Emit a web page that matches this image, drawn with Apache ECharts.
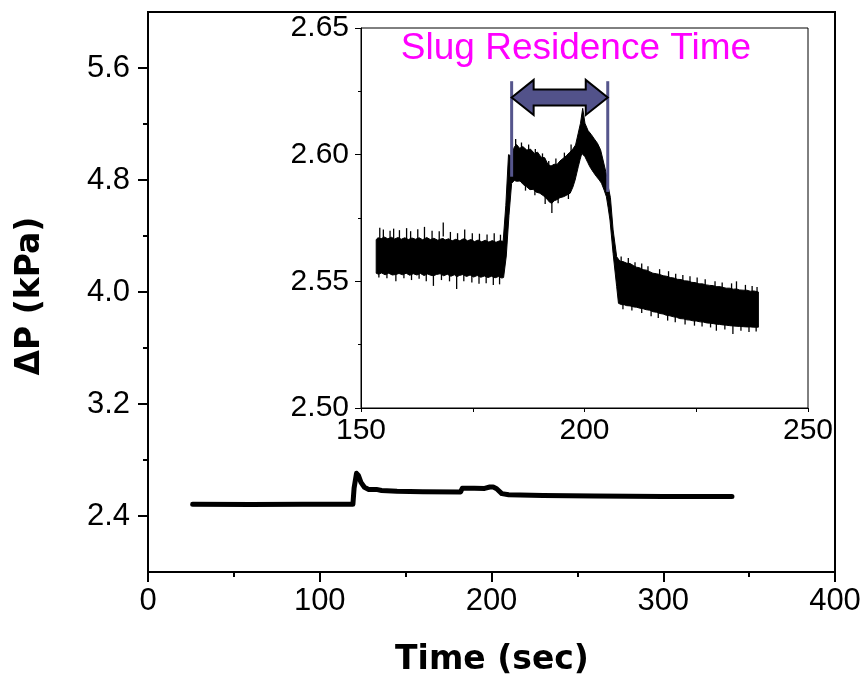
<!DOCTYPE html>
<html>
<head>
<meta charset="utf-8">
<title>Slug residence time</title>
<script src="https://cdn.jsdelivr.net/npm/echarts@6/dist/echarts.min.js"></script>
<style>
  html, body { margin: 0; padding: 0; background: #fff; }
  #main { width: 865px; height: 683px; }
</style>
</head>
<body>
<div id="main"></div>
<script>
  // whole run (main plot), time in sec, dP in kPa
  const mainTime = [26, 60, 90, 119.3, 120, 121.4, 122.5, 124, 126, 128.5, 131, 132, 133, 136, 145, 160, 182,
    183, 190, 196, 199, 201, 203, 206, 210, 230, 260, 300, 340];
  const mainDp = [2.484, 2.483, 2.484, 2.484, 2.60, 2.705, 2.69, 2.64, 2.605, 2.59, 2.59, 2.60, 2.59, 2.582, 2.576, 2.573, 2.572,
    2.598, 2.598, 2.597, 2.607, 2.607, 2.595, 2.56, 2.552, 2.546, 2.542, 2.539, 2.539];

  // inset: upper edge of the noisy trace
  const bandTopTime = [153.4, 153.8, 154.5, 155.2, 156.0, 156.8, 157.5, 158.3, 159.0, 159.8, 160.6, 161.4, 162.2, 163.0,
    163.8, 164.7, 165.5, 166.3, 167.2, 168.0, 168.4, 168.8, 169.6, 170.4, 171.2, 172.1, 172.8, 173.2, 173.8, 174.6,
    175.4, 176.2, 177.0, 177.8, 178.6, 179.4, 180.2, 181.0, 181.8, 182.4, 183.0, 183.6, 184.3, 184.8, 185.5, 186.2,
    187.1, 187.9, 188.8, 189.5, 190.3, 191.1, 191.8, 192.5, 193.2, 193.9, 194.5, 195.2, 195.9, 196.6, 197.3, 198.0,
    198.6, 199.1, 199.6, 200.1, 200.8, 201.5, 202.2, 202.9, 203.6, 204.2, 204.8, 205.3, 205.8, 206.4, 207.2, 207.9,
    208.6, 209.4, 210.2, 211.0, 211.6, 212.4, 213.1, 213.9, 214.6, 215.3, 216.1, 216.8, 217.6, 218.4, 219.2, 220.0,
    220.8, 221.6, 222.4, 223.2, 224.0, 224.8, 225.6, 226.4, 227.2, 228.0, 228.8, 229.6, 230.4, 231.2, 231.7, 232.5,
    233.3, 234.0, 234.7, 235.5, 236.3, 237.1, 237.9, 238.9];
  const bandTopDp = [2.5665, 2.5672, 2.5668, 2.5675, 2.5668, 2.5674, 2.5667, 2.5673, 2.5666, 2.5672, 2.5665, 2.5671, 2.5666, 2.5672,
    2.5664, 2.5673, 2.5665, 2.5670, 2.5662, 2.5668, 2.5669, 2.5663, 2.5668, 2.5660, 2.5666, 2.5660, 2.5667, 2.5668, 2.5660, 2.5665,
    2.5657, 2.5663, 2.5656, 2.5662, 2.5655, 2.5661, 2.5654, 2.5660, 2.5658, 2.5800, 2.6000, 2.5995, 2.6030, 2.6040, 2.6025, 2.6032,
    2.6018, 2.6022, 2.6005, 2.6010, 2.5990, 2.5988, 2.5962, 2.5955, 2.5962, 2.5962, 2.5975, 2.5985, 2.5995, 2.6008, 2.6020, 2.6038,
    2.6085, 2.6124, 2.6183, 2.6124, 2.6095, 2.6080, 2.6062, 2.6045, 2.6019, 2.5975, 2.5930, 2.5874, 2.5830, 2.5703, 2.5597, 2.5580,
    2.5578, 2.5572, 2.5570, 2.5562, 2.5556, 2.5553, 2.5546, 2.5544, 2.5538, 2.5532, 2.5530, 2.5527, 2.5522, 2.5520, 2.5515, 2.5513,
    2.5508, 2.5507, 2.5502, 2.5501, 2.5496, 2.5495, 2.5490, 2.5490, 2.5486, 2.5484, 2.5483, 2.5479, 2.5479, 2.5475, 2.5473, 2.5473,
    2.5469, 2.5470, 2.5466, 2.5465, 2.5465, 2.5461, 2.5462, 2.5458];

  // inset: lower edge of the noisy trace
  const bandLowTime = [153.4, 153.9, 154.6, 155.4, 156.2, 157.0, 157.8, 158.5, 159.3, 160.1, 160.9, 161.7, 162.5, 163.3,
    164.1, 164.9, 165.6, 166.2, 166.9, 167.7, 168.5, 169.3, 170.1, 170.9, 171.4, 172.0, 172.8, 173.6, 174.4, 175.2,
    176.0, 176.8, 177.6, 178.4, 179.2, 180.0, 180.8, 181.5, 181.9, 182.5, 183.1, 183.7, 184.3, 184.8, 185.6, 186.3,
    187.0, 187.8, 188.5, 189.2, 190.0, 190.8, 191.6, 192.2, 192.7, 193.2, 193.8, 194.5, 195.3, 196.0, 196.8, 197.4,
    197.9, 198.6, 199.0, 199.4, 200.1, 200.7, 201.2, 202.0, 202.7, 203.3, 203.8, 204.4, 204.9, 205.3, 205.7, 206.4,
    207.2, 207.6, 208.3, 209.0, 209.4, 210.2, 211.0, 211.6, 212.4, 213.1, 213.8, 214.6, 215.3, 216.1, 216.9, 217.6,
    218.3, 219.1, 219.9, 220.6, 221.3, 222.1, 222.9, 223.6, 224.3, 225.1, 225.9, 226.6, 227.3, 228.0, 228.8, 229.5,
    230.2, 231.0, 231.7, 232.5, 233.2, 233.9, 234.7, 235.5, 236.3, 237.1, 237.9, 238.9];
  const bandLowDp = [2.5532, 2.5528, 2.5533, 2.5526, 2.5532, 2.5525, 2.5527, 2.5531, 2.5526, 2.5532, 2.5524, 2.5530, 2.5525, 2.5531,
    2.5523, 2.5529, 2.5524, 2.5522, 2.5527, 2.5530, 2.5522, 2.5528, 2.5520, 2.5526, 2.5518, 2.5523, 2.5527, 2.5519, 2.5525, 2.5517,
    2.5523, 2.5516, 2.5521, 2.5515, 2.5520, 2.5514, 2.5519, 2.5513, 2.5515, 2.5600, 2.5760, 2.5887, 2.5898, 2.5895, 2.5896, 2.5882,
    2.5874, 2.5862, 2.5863, 2.5852, 2.5848, 2.5838, 2.5825, 2.5812, 2.5808, 2.5818, 2.5822, 2.5830, 2.5834, 2.5840, 2.5848, 2.5872,
    2.5900, 2.5952, 2.5980, 2.6005, 2.5992, 2.5970, 2.5952, 2.5930, 2.5913, 2.5900, 2.5887, 2.5860, 2.5834, 2.5790, 2.5742, 2.5610,
    2.5479, 2.5413, 2.5408, 2.5407, 2.5404, 2.5403, 2.5399, 2.5398, 2.5394, 2.5392, 2.5388, 2.5386, 2.5380, 2.5378, 2.5373, 2.5371,
    2.5366, 2.5364, 2.5360, 2.5358, 2.5353, 2.5352, 2.5348, 2.5347, 2.5344, 2.5343, 2.5340, 2.5339, 2.5336, 2.5335, 2.5333, 2.5331,
    2.5330, 2.5328, 2.5327, 2.5325, 2.5324, 2.5323, 2.5322, 2.5321, 2.5320, 2.5320, 2.5319, 2.5319];

  // thin noise spikes sticking out of the band (time, tip value)
  const topSpikeTime = [154.2, 155.0, 156.5, 157.3, 158.6, 160.2, 161.1, 162.7, 164.2, 165.9, 167.5, 168.4, 170.0, 171.6,
    173.2, 174.9, 176.5, 178.2, 179.8, 181.2, 184.6, 185.9, 187.5, 189.0, 190.6, 192.0, 193.6, 195.5, 197.0,
    208.2, 209.8, 211.3, 212.8, 214.2, 216.8, 218.8, 220.4, 222.0, 223.6, 225.2, 227.0, 229.2, 230.8, 232.9,
    234.0, 236.0, 237.5, 238.6];
  const topSpikeDp = [2.5712, 2.5705, 2.5700, 2.5708, 2.5702, 2.5710, 2.5698, 2.5706, 2.5715, 2.5700, 2.5698, 2.5732, 2.5695, 2.5690,
    2.5705, 2.5690, 2.5688, 2.5685, 2.5690, 2.5684, 2.6062, 2.6048, 2.6040, 2.6022, 2.6005, 2.5975, 2.5985, 2.6008, 2.6040,
    2.5598, 2.5592, 2.5575, 2.5570, 2.5560, 2.5548, 2.5540, 2.5530, 2.5525, 2.5520, 2.5515, 2.5508, 2.5500, 2.5495, 2.5492,
    2.5500, 2.5486, 2.5482, 2.5478];
  const lowSpikeTime = [154.0, 155.8, 157.8, 159.6, 161.3, 163.0, 164.6, 166.2, 168.0, 169.8, 171.4, 173.0, 174.8, 176.4,
    178.0, 179.6, 181.0, 186.8, 188.9, 191.2, 192.7, 194.1, 196.4, 208.6, 210.6, 212.8, 214.9, 216.5, 218.6, 220.3,
    222.5, 224.6, 226.3, 228.2, 229.5, 231.4, 233.2, 235.0, 236.8, 238.4];
  const lowSpikeDp = [2.5515, 2.5512, 2.5500, 2.5512, 2.5505, 2.5510, 2.5500, 2.5482, 2.5505, 2.5500, 2.5470, 2.5500, 2.5495, 2.5490,
    2.5492, 2.5486, 2.5488, 2.5858, 2.5840, 2.5805, 2.5770, 2.5808, 2.5825, 2.5390, 2.5385, 2.5375, 2.5362, 2.5355, 2.5345, 2.5338,
    2.5330, 2.5325, 2.5322, 2.5318, 2.5305, 2.5310, 2.5292, 2.5305, 2.5300, 2.5302];

  // slug markers in the inset
  const slugBounds = [183.7, 205.2];
  const slugLineTop = 2.629;
  const slugLineBottom = [2.5913, 2.5853];
  const arrowLevel = 2.6226;
  const slugLabel = 'Slug Residence Time';

  // tick labels
  const mainYLabels = [2.4, 3.2, 4.0, 4.8, 5.6];
  const mainYMinor = [2.8, 3.6, 4.4, 5.2];

  const font = 'Liberation Sans, Arial, sans-serif';
  const black = '#000';

  let chart = echarts.init(document.getElementById('main'));

  let mainData = mainTime.map(function (t, i) { return [t, mainDp[i]]; });

  let option = {
    backgroundColor: '#fff',
    animation: false,
    grid: [
      { left: 148, right: 30, top: 12, bottom: 111, show: true, borderColor: black, borderWidth: 2 },
      { left: 361, right: 57, top: 28, bottom: 275, show: true, borderColor: black, borderWidth: 1, backgroundColor: '#fff' }
    ],
    xAxis: [{
      gridIndex: 0, type: 'value', min: 0, max: 400, interval: 100,
      axisLine: { onZero: false, lineStyle: { color: black, width: 2 } },
      axisTick: { length: 10, lineStyle: { color: black, width: 2 } },
      minorTick: { show: true, splitNumber: 2, length: 5, lineStyle: { color: black, width: 2 } },
      axisLabel: { color: black, fontSize: 31, fontFamily: font, margin: 14 },
      splitLine: { show: false }
    }, {
      gridIndex: 1, type: 'value', min: 150, max: 250, interval: 50,
      axisLine: { onZero: false, lineStyle: { color: black, width: 1 } },
      axisTick: { length: 4, lineStyle: { color: black, width: 1 } },
      minorTick: { show: true, splitNumber: 2, length: 4, lineStyle: { color: black, width: 1 } },
      axisLabel: { color: black, fontSize: 30, fontFamily: font, margin: 8 },
      splitLine: { show: false }
    }],
    yAxis: [{
      gridIndex: 0, type: 'value', min: 2.0, max: 6.0, position: 'left',
      axisLine: { onZero: false, lineStyle: { color: black, width: 2 } },
      axisTick: { length: 10, customValues: mainYLabels, lineStyle: { color: black, width: 2 } },
      axisLabel: {
        customValues: mainYLabels, color: black, fontSize: 31, fontFamily: font, margin: 18,
        formatter: function (v) { return v.toFixed(1); }
      },
      splitLine: { show: false }
    }, {
      // short ticks between the labelled ones
      gridIndex: 0, type: 'value', min: 2.0, max: 6.0, position: 'left',
      axisLine: { show: false },
      axisTick: { length: 5, customValues: mainYMinor, lineStyle: { color: black, width: 2 } },
      axisLabel: { show: false },
      splitLine: { show: false }
    }, {
      gridIndex: 1, type: 'value', min: 2.50, max: 2.65, interval: 0.05,
      axisLine: { onZero: false, lineStyle: { color: black, width: 1 } },
      axisTick: { length: 6, lineStyle: { color: black, width: 1 } },
      minorTick: { show: true, splitNumber: 2, length: 3, lineStyle: { color: black, width: 1 } },
      axisLabel: {
        color: black, fontSize: 30, fontFamily: font, margin: 12,
        formatter: function (v) { return v.toFixed(2); }
      },
      splitLine: { show: false }
    }],
    graphic: [{
      type: 'text', x: 30, y: 296, rotation: Math.PI / 2,
      style: { text: 'ΔP (kPa)', fill: black, font: 'bold 33px "DejaVu Sans", sans-serif', textAlign: 'center', textVerticalAlign: 'middle' }
    }, {
      type: 'text', x: 492, y: 660,
      style: { text: 'Time (sec)', fill: black, font: 'bold 33px "DejaVu Sans", sans-serif', textAlign: 'center', textVerticalAlign: 'middle' }
    }, {
      type: 'text', x: 576, y: 49, z: 100,
      style: { text: slugLabel, fill: '#ff00ff', font: '37px "Liberation Sans", Arial, sans-serif', textAlign: 'center', textVerticalAlign: 'middle' }
    }],
    series: [{
      type: 'line',
      xAxisIndex: 0, yAxisIndex: 0,
      data: mainData,
      showSymbol: false,
      lineStyle: { color: black, width: 5, join: 'round', cap: 'round' }
    }, {
      // noisy band drawn as the area between its two edges, plus hair spikes
      type: 'custom',
      xAxisIndex: 1, yAxisIndex: 2,
      data: [[bandTopTime[0], bandTopDp[0]]],
      clip: true,
      z: 3,
      renderItem: function (params, api) {
        let pts = [];
        for (let i = 0; i < bandTopTime.length; i++) {
          pts.push(api.coord([bandTopTime[i], bandTopDp[i]]));
        }
        for (let i = bandLowTime.length - 1; i >= 0; i--) {
          pts.push(api.coord([bandLowTime[i], bandLowDp[i]]));
        }
        let children = [{
          type: 'polygon',
          shape: { points: pts },
          style: { fill: black, stroke: black, lineWidth: 1 }
        }];
        let hairStyle = { stroke: black, lineWidth: 1.3 };
        for (let i = 0; i < topSpikeTime.length; i++) {
          let p = api.coord([topSpikeTime[i], topSpikeDp[i]]);
          children.push({ type: 'line', shape: { x1: p[0], y1: p[1], x2: p[0], y2: p[1] + 14 }, style: hairStyle });
        }
        for (let i = 0; i < lowSpikeTime.length; i++) {
          let p = api.coord([lowSpikeTime[i], lowSpikeDp[i]]);
          children.push({ type: 'line', shape: { x1: p[0], y1: p[1], x2: p[0], y2: p[1] - 14 }, style: hairStyle });
        }
        return { type: 'group', children: children };
      }
    }, {
      // residence time markers + double arrow
      type: 'custom',
      xAxisIndex: 1, yAxisIndex: 2,
      data: [[slugBounds[0], arrowLevel]],
      z: 5,
      renderItem: function (params, api) {
        let l = api.coord([slugBounds[0], arrowLevel]);
        let r = api.coord([slugBounds[1], arrowLevel]);
        let lt = api.coord([slugBounds[0], slugLineTop]);
        let lb = api.coord([slugBounds[0], slugLineBottom[0]]);
        let rt = api.coord([slugBounds[1], slugLineTop]);
        let rb = api.coord([slugBounds[1], slugLineBottom[1]]);
        let head = 22, hh = 17.5, bh = 8, y = l[1];
        let lineStyle = { stroke: '#55558c', lineWidth: 3 };
        return {
          type: 'group',
          children: [{
            type: 'line', shape: { x1: lt[0], y1: lt[1], x2: lb[0], y2: lb[1] }, style: lineStyle
          }, {
            type: 'line', shape: { x1: rt[0], y1: rt[1], x2: rb[0], y2: rb[1] }, style: lineStyle
          }, {
            type: 'polygon',
            shape: {
              points: [
                [l[0], y], [l[0] + head, y - hh], [l[0] + head, y - bh], [r[0] - head, y - bh], [r[0] - head, y - hh],
                [r[0], y], [r[0] - head, y + hh], [r[0] - head, y + bh], [l[0] + head, y + bh], [l[0] + head, y + hh]
              ]
            },
            style: { fill: '#52528a', stroke: black, lineWidth: 2, lineJoin: 'miter' }
          }]
        };
      }
    }]
  };

  chart.setOption(option);
</script>
</body>
</html>
